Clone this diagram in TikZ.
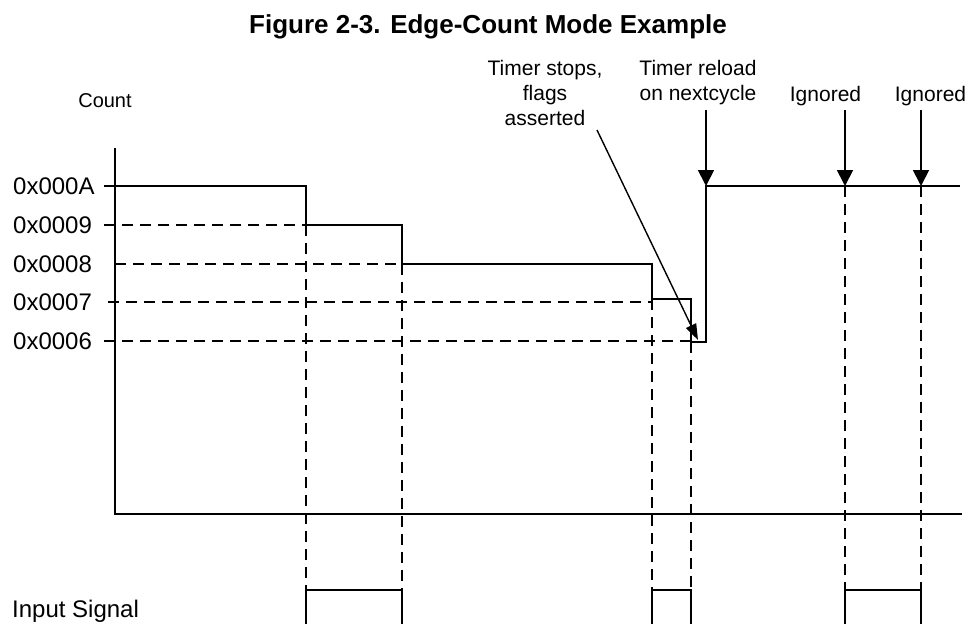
\documentclass[tikz,border=0pt]{standalone}
\usepackage{fontspec}
\setmainfont{Liberation Sans}
\usetikzlibrary{arrows.meta}
\begin{document}
\begin{tikzpicture}[x=1pt,y=-1pt,
  solidline/.style={line width=1.8pt},
  dashline/.style={line width=1.6pt, dash pattern=on 11pt off 7pt},
  pointer/.style={line width=1.8pt, -{Triangle[width=16pt,length=16pt]}},
  thinpointer/.style={line width=1.4pt, -{Triangle[width=11pt,length=16pt]}},
  lbl/.style={inner sep=0pt, font=\fontsize{21}{25}\selectfont, align=center},
  ticklbl/.style={inner sep=0pt, anchor=base west, font=\fontsize{24}{28}\selectfont},
]
\useasboundingbox (0,0) rectangle (969,624);

% title and labels
\node[inner sep=0pt, anchor=base, font=\fontsize{26}{30}\selectfont\bfseries] (title) at (488,33) {Figure 2-3. Edge-Count Mode Example};
\node[inner sep=0pt, anchor=base, font=\fontsize{20}{24}\selectfont] (count) at (105,107) {Count};
\node[ticklbl] (lA) at (13,194.6) {0x000A};
\node[ticklbl] (l9) at (13,233.6) {0x0009};
\node[ticklbl] (l8) at (13,272.6) {0x0008};
\node[ticklbl] (l7) at (13,310.6) {0x0007};
\node[ticklbl] (l6) at (13,349.6) {0x0006};
\node[ticklbl] (insig) at (12,617) {Input Signal};
\node[lbl, anchor=north] (stops) at (545,60) {Timer stops,\\flags\\asserted};
\node[lbl, anchor=north] (reload) at (698,60) {Timer reload\\on nextcycle};
\node[lbl, anchor=base] (ign1) at (825.5,101) {Ignored};
\node[lbl, anchor=base] (ign2) at (930.5,101) {Ignored};

% axes
\coordinate (ytop) at (115,148);
\coordinate (origin) at (115,514);
\coordinate (xend) at (962,514);
\draw[solidline] (ytop) -- (origin) -- (xend);

% staircase
\coordinate (tA) at (104,186);
\coordinate (s0) at (115,186);
\coordinate (s1) at (306,186);
\coordinate (s2) at (306,225);
\coordinate (s3) at (402,225);
\coordinate (s4) at (402,264);
\coordinate (s5) at (652,264);
\coordinate (s6) at (652,299);
\coordinate (s7) at (691,299);
\coordinate (s8) at (691,342);
\coordinate (s9) at (706,342);
\coordinate (s10) at (706,186);
\coordinate (s11) at (960,186);
\draw[solidline] (tA) -- (s0);
\draw[solidline] (s0) -- (s1) -- (s2) -- (s3) -- (s4) -- (s5) -- (s6) -- (s7) -- (s8) -- (s9) -- (s10) -- (s11);

% dashed horizontal levels
\coordinate (h9) at (104,225);
\coordinate (h8) at (115,264);
\coordinate (h7) at (108,302);
\coordinate (h7e) at (652,302);
\coordinate (h6) at (104,341);
\coordinate (h6e) at (691,341);
\draw[dashline] (h9) -- (s2);
\draw[dashline] (h8) -- (s4);
\draw[dashline] (h7) -- (h7e);
\draw[dashline] (h6) -- (h6e);

% pulses
\coordinate (p1a) at (306,624); \coordinate (p1b) at (306,590);
\coordinate (p1c) at (402,590); \coordinate (p1d) at (402,624);
\coordinate (p2a) at (652,624); \coordinate (p2b) at (652,590);
\coordinate (p2c) at (691,590); \coordinate (p2d) at (691,624);
\coordinate (p3a) at (845,624); \coordinate (p3b) at (845,590);
\coordinate (p3c) at (921,590); \coordinate (p3d) at (921,624);
\draw[solidline] (p1a) -- (p1b) -- (p1c) -- (p1d);
\draw[solidline] (p2a) -- (p2b) -- (p2c) -- (p2d);
\draw[solidline] (p3a) -- (p3b) -- (p3c) -- (p3d);

% dashed verticals
\coordinate (v5) at (845,186);
\coordinate (v6) at (921,186);
\draw[dashline] (s2) -- (p1b);
\draw[dashline] (s4) -- (p1c);
\draw[dashline] (s6) -- (p2b);
\draw[dashline] (s8) -- (p2c);
\draw[dashline] (v5) -- (p3b);
\draw[dashline] (v6) -- (p3c);

% arrows
\coordinate (r1) at (706,110);
\coordinate (r2) at (845,110);
\coordinate (r3) at (921,110);
\draw[pointer] (r1) -- (s10);
\draw[pointer] (r2) -- (v5);
\draw[pointer] (r3) -- (v6);
\coordinate (d0) at (597,130);
\coordinate (d1) at (698,340);
\draw[thinpointer] (d0) -- (d1);
\end{tikzpicture}
\end{document}
